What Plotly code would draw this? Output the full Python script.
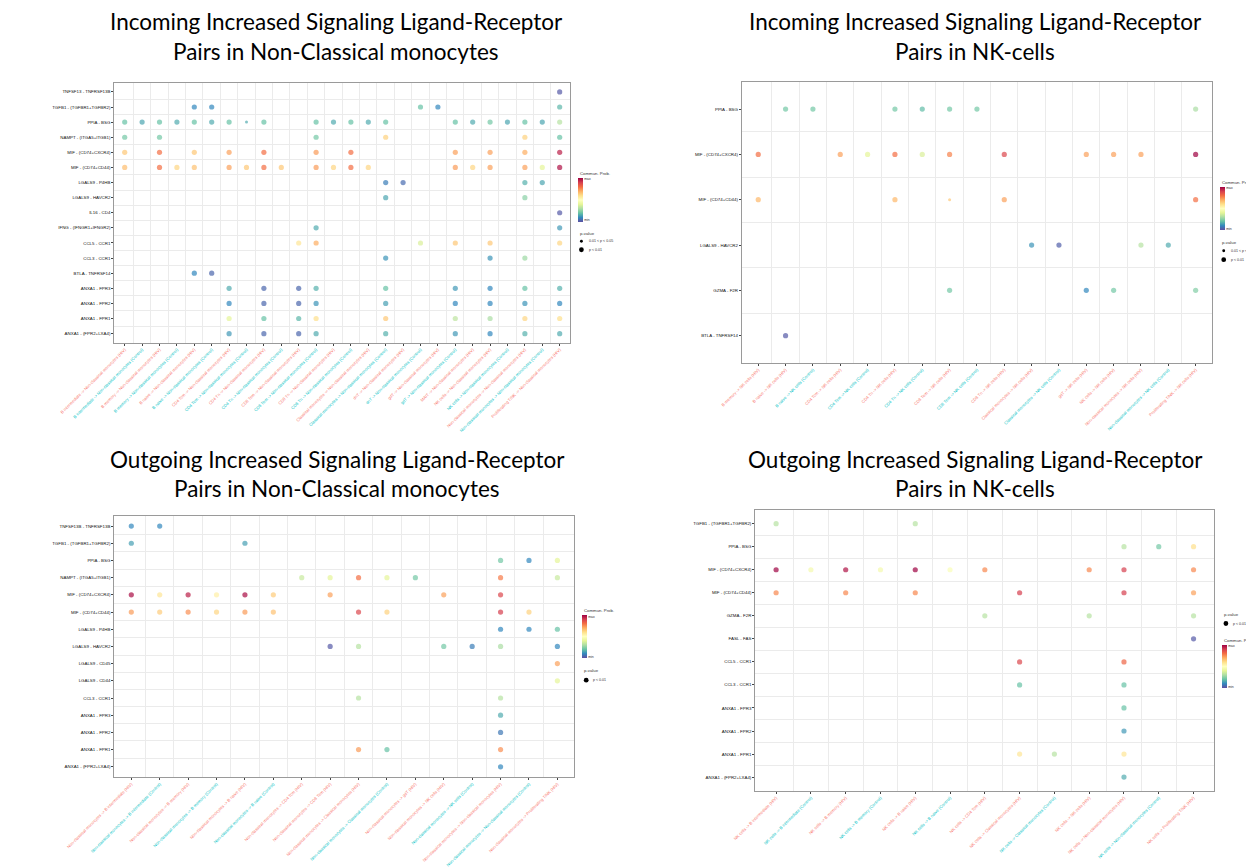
import plotly.graph_objects as go

W, H = 1246, 867
HIV_COL = "#F8766D"
CTRL_COL = "#00BFC4"

# ---------------- Incoming signaling to Non-classical monocytes ----------------
in_nc_pairs = [
    "TNFSF13 - TNFRSF13B", "TGFB1 - (TGFBR1+TGFBR2)", "PPIA - BSG", "NAMPT - (ITGA5+ITGB1)",
    "MIF - (CD74+CXCR4)", "MIF - (CD74+CD44)", "LGALS9 - P4HB", "LGALS9 - HAVCR2", "IL16 - CD4",
    "IFNG - (IFNGR1+IFNGR2)", "CCL5 - CCR1", "CCL3 - CCR1", "BTLA - TNFRSF14",
    "ANXA1 - FPR3", "ANXA1 - FPR2", "ANXA1 - FPR1", "ANXA1 - (FPR2+LXA4)",
]
in_nc_source = [
    "B intermediate", "B intermediate", "B memory", "B memory", "B naive", "B naive",
    "CD4 Tcm", "CD4 Tcm", "CD4 Tn", "CD4 Tn", "CD8 Tem", "CD8 Tem", "CD8 Tn", "CD8 Tn",
    "Classical monocytes", "Classical monocytes", "dnT", "dnT", "gdT", "gdT", "MAIT",
    "NK cells", "NK cells", "Non-classical monocytes", "Non-classical monocytes", "Proliferating T/NK",
]
in_nc_group = [
    "HIV", "Control", "HIV", "Control", "HIV", "Control", "HIV", "Control", "HIV", "Control",
    "HIV", "Control", "HIV", "Control", "HIV", "Control", "HIV", "Control", "HIV", "Control",
    "HIV", "HIV", "Control", "HIV", "Control", "HIV",
]
in_nc_row = (
    [1]
    + [2] * 5
    + [3] * 21
    + [4] * 6
    + [5] * 11
    + [6] * 18
    + [7] * 4
    + [8] * 2
    + [9]
    + [10] * 2
    + [11] * 6
    + [12] * 3
    + [13] * 2
    + [14] * 9
    + [15] * 9
    + [16] * 9
    + [17] * 9
)
in_nc_col = [
    26,
    5, 6, 18, 19, 26,
    1, 2, 3, 4, 5, 6, 7, 8, 9, 12, 13, 14, 15, 16, 20, 21, 22, 23, 24, 25, 26,
    1, 3, 12, 16, 24, 26,
    1, 3, 5, 7, 9, 12, 14, 20, 22, 24, 26,
    1, 3, 4, 5, 7, 8, 9, 10, 12, 13, 14, 15, 20, 21, 22, 24, 25, 26,
    16, 17, 24, 25,
    16, 24,
    26,
    12, 26,
    11, 12, 18, 20, 22, 26,
    16, 22, 24,
    5, 6,
    7, 9, 11, 12, 16, 20, 22, 24, 26,
    7, 9, 11, 12, 16, 20, 22, 24, 26,
    7, 9, 11, 12, 16, 20, 22, 24, 26,
    7, 9, 11, 12, 16, 20, 22, 24, 26,
]
in_nc_prob = [
    0.02,
    0.10, 0.10, 0.20, 0.10, 0.18,
    0.20, 0.15, 0.20, 0.16, 0.20, 0.16, 0.20, 0.16, 0.20, 0.20, 0.16, 0.20, 0.16, 0.20, 0.20, 0.16, 0.22, 0.15, 0.20, 0.15, 0.32,
    0.22, 0.22, 0.22, 0.63, 0.63, 0.20,
    0.65, 0.80, 0.65, 0.72, 0.80, 0.73, 0.80, 0.72, 0.72, 0.70, 0.95,
    0.67, 0.80, 0.62, 0.66, 0.72, 0.65, 0.80, 0.65, 0.73, 0.62, 0.80, 0.62, 0.73, 0.62, 0.72, 0.72, 0.40, 0.97,
    0.08, 0.05, 0.17, 0.15,
    0.15, 0.25,
    0.02,
    0.16, 0.13,
    0.58, 0.70, 0.38, 0.65, 0.65, 0.62,
    0.12, 0.12, 0.28,
    0.10, 0.04,
    0.16, 0.04, 0.04, 0.17, 0.20, 0.13, 0.10, 0.20, 0.17,
    0.10, 0.04, 0.04, 0.12, 0.14, 0.10, 0.10, 0.12, 0.10,
    0.40, 0.20, 0.18, 0.60, 0.65, 0.33, 0.30, 0.62, 0.60,
    0.13, 0.04, 0.04, 0.16, 0.17, 0.13, 0.10, 0.17, 0.16,
]
in_nc_weak = [(3, 8)]  # pairs with 0.01 < p < 0.05

# ---------------- Incoming signaling to NK cells ----------------
in_nk_pairs = [
    "PPIA - BSG", "MIF - (CD74+CXCR4)", "MIF - (CD74+CD44)",
    "LGALS9 - HAVCR2", "GZMA - F2R", "BTLA - TNFRSF14",
]
in_nk_source = [
    "B memory", "B naive", "B naive", "CD4 Tcm", "CD4 Tcm", "CD4 Tn", "CD4 Tn", "CD8 Tem", "CD8 Tem",
    "CD8 Tn", "Classical monocytes", "Classical monocytes", "gdT", "NK cells",
    "Non-classical monocytes", "Non-classical monocytes", "Proliferating T/NK",
]
in_nk_group = [
    "HIV", "HIV", "Control", "HIV", "Control", "HIV", "Control", "HIV", "Control",
    "HIV", "HIV", "Control", "HIV", "HIV", "HIV", "Control", "HIV",
]
in_nk_row = [1] * 7 + [2] * 11 + [3] * 5 + [4] * 4 + [5] * 4 + [6]
in_nk_col = [
    2, 3, 6, 7, 8, 9, 17,
    1, 4, 5, 6, 7, 8, 10, 13, 14, 15, 17,
    1, 6, 8, 10, 17,
    11, 12, 15, 16,
    8, 13, 14, 17,
    2,
]
in_nk_prob = [
    0.22, 0.22, 0.22, 0.19, 0.22, 0.22, 0.30,
    0.80, 0.72, 0.40, 0.80, 0.38, 0.77, 0.88, 0.72, 0.72, 0.72, 1.00,
    0.68, 0.68, 0.65, 0.72, 0.80,
    0.12, 0.03, 0.32, 0.16,
    0.22, 0.10, 0.22, 0.24,
    0.02,
]
in_nk_weak = [(3, 8)]

# ---------------- Outgoing signaling from Non-classical monocytes ----------------
out_nc_pairs = [
    "TNFSF13B - TNFRSF13B", "TGFB1 - (TGFBR1+TGFBR2)", "PPIA - BSG", "NAMPT - (ITGA5+ITGB1)",
    "MIF - (CD74+CXCR4)", "MIF - (CD74+CD44)", "LGALS9 - P4HB", "LGALS9 - HAVCR2",
    "LGALS9 - CD45", "LGALS9 - CD44", "CCL3 - CCR1", "ANXA1 - FPR3", "ANXA1 - FPR2",
    "ANXA1 - FPR1", "ANXA1 - (FPR2+LXA4)",
]
out_nc_target = [
    "B intermediate", "B intermediate", "B memory", "B memory", "B naive", "B naive",
    "CD4 Tcm", "CD8 Tem", "Classical monocytes", "Classical monocytes", "gdT", "NK cells",
    "NK cells", "Non-classical monocytes", "Non-classical monocytes", "Proliferating T/NK",
]
out_nc_group = [
    "HIV", "Control", "HIV", "Control", "HIV", "Control", "HIV", "HIV",
    "HIV", "Control", "HIV", "HIV", "Control", "HIV", "Control", "HIV",
]
out_nc_row = (
    [1] * 2 + [2] * 2 + [3] * 3 + [4] * 7 + [5] * 9 + [6] * 10 + [7] * 3 + [8] * 6
    + [9] + [10] + [11] * 2 + [12] + [13] + [14] * 3 + [15]
)
out_nc_col = [
    1, 2,
    1, 5,
    14, 15, 16,
    7, 8, 9, 10, 11, 14, 16,
    1, 2, 3, 4, 5, 6, 8, 12, 14,
    1, 2, 3, 4, 5, 6, 9, 10, 14, 15,
    14, 15, 16,
    8, 9, 12, 13, 14, 16,
    16,
    16,
    9, 14,
    14,
    14,
    9, 10, 14,
    14,
]
out_nc_prob = [
    0.10, 0.10,
    0.14, 0.14,
    0.22, 0.10, 0.40,
    0.35, 0.40, 0.80, 0.40, 0.22, 0.78, 0.35,
    0.98, 0.58, 0.95, 0.55, 0.98, 0.64, 0.72, 0.72, 0.88,
    0.73, 0.64, 0.75, 0.62, 0.73, 0.66, 0.88, 0.63, 0.90, 0.63,
    0.10, 0.10, 0.20,
    0.02, 0.32, 0.22, 0.08, 0.30, 0.10,
    0.72,
    0.40,
    0.32, 0.32,
    0.16,
    0.07,
    0.73, 0.20, 0.75,
    0.10,
]
out_nc_weak = []

# ---------------- Outgoing signaling from NK cells ----------------
out_nk_pairs = [
    "TGFB1 - (TGFBR1+TGFBR2)", "PPIA - BSG", "MIF - (CD74+CXCR4)", "MIF - (CD74+CD44)",
    "GZMA - F2R", "FASL - FAS", "CCL5 - CCR1", "CCL3 - CCR1",
    "ANXA1 - FPR3", "ANXA1 - FPR2", "ANXA1 - FPR1", "ANXA1 - (FPR2+LXA4)",
]
out_nk_target = [
    "B intermediate", "B intermediate", "B memory", "B memory", "B naive", "B naive",
    "CD4 Tcm", "Classical monocytes", "Classical monocytes", "NK cells",
    "Non-classical monocytes", "Non-classical monocytes", "Proliferating T/NK",
]
out_nk_group = [
    "HIV", "Control", "HIV", "Control", "HIV", "Control", "HIV",
    "HIV", "Control", "HIV", "HIV", "Control", "HIV",
]
out_nk_row = (
    [1] * 2 + [2] * 3 + [3] * 10 + [4] * 6 + [5] * 3 + [6] + [7] * 2 + [8] * 2
    + [9] + [10] + [11] * 3 + [12]
)
out_nk_col = [
    1, 5,
    11, 12, 13,
    1, 2, 3, 4, 5, 6, 7, 10, 11, 13,
    1, 3, 5, 8, 11, 13,
    7, 10, 13,
    13,
    8, 11,
    8, 11,
    11,
    11,
    8, 9, 11,
    11,
]
out_nk_prob = [
    0.32, 0.32,
    0.32, 0.22, 0.60,
    1.00, 0.45, 0.97, 0.45, 1.00, 0.48, 0.76, 0.76, 0.90, 0.76,
    0.76, 0.76, 0.76, 0.90, 0.90, 0.72,
    0.32, 0.32, 0.32,
    0.02,
    0.88, 0.82,
    0.20, 0.20,
    0.20,
    0.13,
    0.58, 0.32, 0.58,
    0.16,
]
out_nk_weak = []


def px_x(p):
    return p / W


def px_y(p):
    return 1 - p / H


def colored(text, group):
    color = HIV_COL if group == "HIV" else CTRL_COL
    return f'<span style="color:{color}">{text}</span>'


panels = [
    dict(
        pairs=in_nc_pairs,
        xlabels=[colored(f"{s} -> Non-classical monocytes ({g})", g) for s, g in zip(in_nc_source, in_nc_group)],
        row=in_nc_row, col=in_nc_col, prob=in_nc_prob, weak=in_nc_weak,
        box=(63, 539.5, 84, 347.5),
        title=("Incoming Increased Signaling Ligand-Receptor", "Pairs in Non-Classical monocytes"),
        title_xy=(295, 22, 52),
        cbar=(547.3, 180, 44), cbar_title_y=175.5,
        pleg=(547.3, 236.5, [(244.7, "0.01 < p < 0.05", 3), (253.3, "p < 0.01", 5)]),
    ),
    dict(
        pairs=in_nk_pairs,
        xlabels=[colored(f"{s} -> NK cells ({g})", g) for s, g in zip(in_nk_source, in_nk_group)],
        row=in_nk_row, col=in_nk_col, prob=in_nk_prob, weak=in_nk_weak,
        box=(719, 1210.5, 83, 368),
        title=("Incoming Increased Signaling Ligand-Receptor", "Pairs in NK-cells"),
        title_xy=(963, 22, 52),
        cbar=(1218.7, 189.3, 43.4), cbar_title_y=185,
        pleg=(1218.7, 245.7, [(254.3, "0.01 < p < 0.05", 3), (263.3, "p < 0.01", 5)]),
    ),
    dict(
        pairs=out_nc_pairs,
        xlabels=[colored(f"Non-classical monocytes -> {t} ({g})", g) for t, g in zip(out_nc_target, out_nc_group)],
        row=out_nc_row, col=out_nc_col, prob=out_nc_prob, weak=out_nc_weak,
        box=(63, 544, 523, 788),
        title=("Outgoing Increased Signaling Ligand-Receptor", "Pairs in Non-Classical monocytes"),
        title_xy=(296, 466, 495),
        cbar=(552.3, 624, 43), cbar_title_y=619,
        pleg=(552.3, 680.3, [(689.7, "p < 0.01", 5)]),
    ),
    dict(
        pairs=out_nk_pairs,
        xlabels=[colored(f"NK cells -> {t} ({g})", g) for t, g in zip(out_nk_target, out_nk_group)],
        row=out_nk_row, col=out_nk_col, prob=out_nk_prob, weak=out_nk_weak,
        box=(733, 1213, 517, 802),
        title=("Outgoing Increased Signaling Ligand-Receptor", "Pairs in NK-cells"),
        title_xy=(963, 466, 495),
        cbar=(1221, 654, 43.3), cbar_title_y=649.3,
        pleg=(1221, 623.3, [(632.3, "p < 0.01", 5)]),
    ),
]

fig = go.Figure()
layout = dict(
    width=W, height=H,
    margin=dict(l=0, r=0, t=0, b=0),
    paper_bgcolor="white", plot_bgcolor="white",
    showlegend=False,
    font=dict(family="Liberation Sans, Arial, sans-serif", color="#222"),
)
annotations = []
shapes = []

TITLE_FONT = dict(family="Lato, Open Sans, sans-serif", size=22.5, color="black")
SMALL_FONT = dict(family="Liberation Sans, Arial, sans-serif", size=4.3, color="#333")

for i, p in enumerate(panels, start=1):
    sfx = "" if i == 1 else str(i)
    n_rows, n_cols = len(p["pairs"]), len(p["xlabels"])
    x0, x1, y0, y1 = p["box"]
    weak = set(p["weak"])
    sizes = [3 if (r, c) in weak else 5.2 for r, c in zip(p["row"], p["col"])]

    fig.add_trace(go.Scatter(
        x=p["col"], y=p["row"], mode="markers",
        xaxis="x" + sfx, yaxis="y" + sfx,
        marker=dict(
            color=p["prob"], coloraxis="coloraxis" + sfx, size=sizes,
            line=dict(width=0),
        ),
        hoverinfo="skip",
    ))

    layout["xaxis" + sfx] = dict(
        domain=[px_x(x0), px_x(x1)], anchor="y" + sfx,
        range=[0.4, n_cols + 0.6], tickmode="array",
        tickvals=list(range(1, n_cols + 1)), ticktext=p["xlabels"],
        tickangle=-45, tickfont=dict(family="Liberation Sans, Arial, sans-serif", size=4.2),
        showgrid=False, zeroline=False,
        showline=True, mirror=True, linecolor="#9a9a9a", linewidth=1,
        ticks="outside", ticklen=2, tickwidth=0.6, tickcolor="#444",
        minor=dict(tickvals=[k + 0.5 for k in range(1, n_cols)], showgrid=True,
                   gridcolor="#ebebeb", gridwidth=0.8, ticks=""),
    )
    layout["yaxis" + sfx] = dict(
        domain=[px_y(y1), px_y(y0)], anchor="x" + sfx,
        range=[n_rows + 0.6, 0.4], tickmode="array",
        tickvals=list(range(1, n_rows + 1)), ticktext=p["pairs"],
        tickfont=dict(family="Liberation Sans, Arial, sans-serif", size=4.4, color="#111"),
        showgrid=False, zeroline=False,
        showline=True, mirror=True, linecolor="#9a9a9a", linewidth=1,
        ticks="outside", ticklen=2, tickwidth=0.6, tickcolor="#444",
        minor=dict(tickvals=[k + 0.5 for k in range(1, n_rows)], showgrid=True,
                   gridcolor="#ebebeb", gridwidth=0.8, ticks=""),
    )

    cx, cy, clen = p["cbar"]
    layout["coloraxis" + sfx] = dict(
        colorscale="Spectral", reversescale=True, cmin=0, cmax=1,
        colorbar=dict(
            x=px_x(cx), xanchor="left", y=px_y(cy), yanchor="top",
            len=clen, lenmode="pixels", thickness=4.6, xpad=0, ypad=0,
            outlinewidth=0, ticks="", tickvals=[0.03, 0.97], ticktext=["min", "max"],
            tickfont=dict(family="Liberation Sans, Arial, sans-serif", size=3.4, color="#333"),
            ticklabelposition="outside",
        ),
    )
    annotations.append(dict(
        x=px_x(cx), y=px_y(p["cbar_title_y"]), xref="paper", yref="paper",
        text="Commun. Prob.", showarrow=False, xanchor="left", yanchor="middle", font=SMALL_FONT,
    ))

    lx, ly, entries = p["pleg"]
    annotations.append(dict(
        x=px_x(lx), y=px_y(ly), xref="paper", yref="paper",
        text="p-value", showarrow=False, xanchor="left", yanchor="middle", font=SMALL_FONT,
    ))
    for ey, label, sz in entries:
        r = sz / 2
        dx = lx + 4
        shapes.append(dict(
            type="circle", xref="paper", yref="paper",
            x0=px_x(dx - r), x1=px_x(dx + r), y0=px_y(ey + r), y1=px_y(ey - r),
            fillcolor="black", line=dict(width=0),
        ))
        annotations.append(dict(
            x=px_x(lx + 9.5), y=px_y(ey), xref="paper", yref="paper",
            text=label, showarrow=False, xanchor="left", yanchor="middle",
            font=dict(family="Liberation Sans, Arial, sans-serif", size=3.6, color="#333"),
        ))

    tx, ty1, ty2 = p["title_xy"]
    for line, ty in zip(p["title"], (ty1, ty2)):
        annotations.append(dict(
            x=px_x(tx), y=px_y(ty), xref="paper", yref="paper",
            text=line, showarrow=False, xanchor="center", yanchor="middle", font=TITLE_FONT,
        ))

layout["annotations"] = annotations
layout["shapes"] = shapes
fig.update_layout(**layout)
fig.write_html("out.html")
